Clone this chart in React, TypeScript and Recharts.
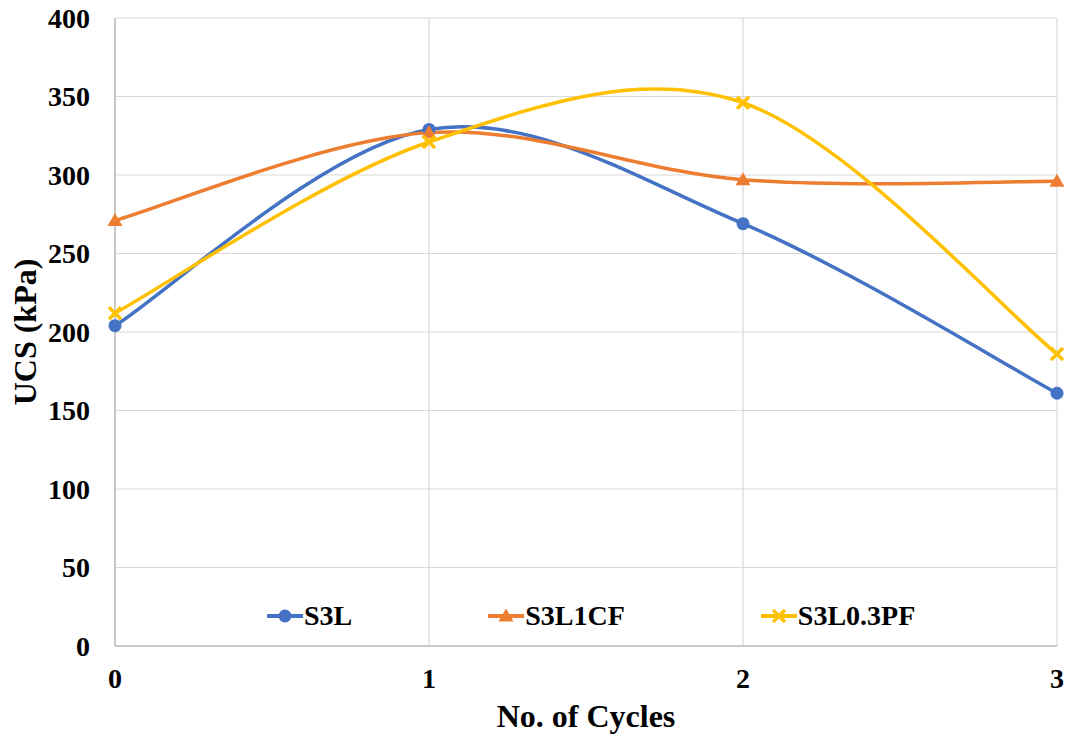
import React from 'react';
import { LineChart, Line, XAxis, YAxis, CartesianGrid, Legend, Label } from 'recharts';

const cycles = [0, 1, 2, 3];
const s3l = [204, 329, 269, 161];
const s3l1cf = [271, 327, 297, 296];
const s3l03pf = [212, 321, 346, 186];
const xTicks = [0, 1, 2, 3];
const yTicks = [0, 50, 100, 150, 200, 250, 300, 350, 400];
const seriesNames = ['S3L', 'S3L1CF', 'S3L0.3PF'];
const colors = ['#4472C4', '#ED7D31', '#FFC000'];

const data = cycles.map((c, i) => ({ cycle: c, a: s3l[i], b: s3l1cf[i], c: s3l03pf[i] }));

const FONT = '"Liberation Serif", "Times New Roman", serif';

function excelSmooth(context: any) {
  let pts: number[][] = [];
  return {
    areaStart() {},
    areaEnd() {},
    lineStart() {
      pts = [];
    },
    lineEnd() {
      const n = pts.length;
      if (!n) return;
      context.moveTo(pts[0][0], pts[0][1]);
      for (let i = 0; i < n - 1; i++) {
        const p0 = pts[Math.max(i - 1, 0)];
        const p1 = pts[i];
        const p2 = pts[i + 1];
        const p3 = pts[Math.min(i + 2, n - 1)];
        context.bezierCurveTo(
          p1[0] + (p2[0] - p0[0]) / 6,
          p1[1] + (p2[1] - p0[1]) / 6,
          p2[0] - (p3[0] - p1[0]) / 6,
          p2[1] - (p3[1] - p1[1]) / 6,
          p2[0],
          p2[1]
        );
      }
    },
    point(x: number, y: number) {
      pts.push([+x, +y]);
    },
  };
}

const markerShape = (kind: number, cx: number, cy: number, key?: string) => {
  if (kind === 0) return <circle key={key} cx={cx} cy={cy} r={6.5} fill={colors[0]} />;
  if (kind === 1)
    return (
      <polygon
        key={key}
        points={`${cx},${cy - 7.5} ${cx - 7.5},${cy + 5.5} ${cx + 7.5},${cy + 5.5}`}
        fill={colors[1]}
      />
    );
  return (
    <g key={key}>
      <line x1={cx - 6} y1={cy - 6} x2={cx + 6} y2={cy + 6} stroke={colors[2]} strokeWidth={3.5} />
      <line x1={cx - 6} y1={cy + 6} x2={cx + 6} y2={cy - 6} stroke={colors[2]} strokeWidth={3.5} />
    </g>
  );
};

const makeDot = (kind: number) => (props: any) => {
  const { cx, cy, index } = props;
  if (cx == null || cy == null) return <g key={`d${kind}-${index}`} />;
  return markerShape(kind, cx, cy, `d${kind}-${index}`);
};

const LegendContent = () => (
  <div
    style={{
      display: 'flex',
      alignItems: 'center',
      gap: 136,
      fontFamily: FONT,
      fontWeight: 'bold',
      fontSize: 28,
      color: '#000',
      whiteSpace: 'nowrap',
    }}
  >
    {seriesNames.map((name, i) => (
      <div key={name} style={{ display: 'flex', alignItems: 'center' }}>
        <svg width={36} height={20} style={{ display: 'block' }}>
          <line x1={0} y1={10} x2={36} y2={10} stroke={colors[i]} strokeWidth={4} />
          {markerShape(i, 18, 10)}
        </svg>
        <span style={{ marginLeft: 1, lineHeight: '32px' }}>{name}</span>
      </div>
    ))}
  </div>
);

const YTitle = (props: any) => {
  const vb = props.viewBox || { x: 0, y: 18, width: 115, height: 628 };
  const x = vb.x + 36;
  const y = vb.y + vb.height / 2;
  return (
    <text
      x={x}
      y={y}
      transform={`rotate(-90 ${x} ${y})`}
      textAnchor="middle"
      fontFamily={FONT}
      fontWeight="bold"
      fontSize={32}
      fill="#000"
    >
      UCS (kPa)
    </text>
  );
};

const XTitle = (props: any) => {
  const vb = props.viewBox || { x: 115, y: 646, width: 942, height: 89 };
  const x = vb.x + vb.width / 2;
  const y = vb.y + 81;
  return (
    <text x={x} y={y} textAnchor="middle" fontFamily={FONT} fontWeight="bold" fontSize={32} fill="#000">
      No. of Cycles
    </text>
  );
};

const tickStyle = { fontFamily: FONT, fontWeight: 'bold', fontSize: 28, fill: '#000' };

export default function App() {
  return (
    <div style={{ position: 'absolute', left: 0, top: 0, width: 1068, height: 735, background: '#fff' }}>
      <LineChart width={1068} height={735} data={data} margin={{ top: 18, right: 11, left: 0, bottom: 0 }}>
        <CartesianGrid stroke="#d9d9d9" strokeWidth={1.2} />
        <XAxis
          dataKey="cycle"
          type="number"
          domain={[0, 3]}
          ticks={xTicks}
          height={89}
          tickLine={false}
          tickSize={0}
          tickMargin={22}
          axisLine={{ stroke: '#bfbfbf', strokeWidth: 1.5 }}
          tick={tickStyle}
          interval={0}
        >
          <Label content={<XTitle />} />
        </XAxis>
        <YAxis
          type="number"
          domain={[0, 400]}
          ticks={yTicks}
          width={115}
          tickLine={false}
          tickSize={0}
          tickMargin={25}
          axisLine={{ stroke: '#bfbfbf', strokeWidth: 1.5 }}
          tick={tickStyle}
          interval={0}
        >
          <Label content={<YTitle />} />
        </YAxis>
        <Legend
          layout="horizontal"
          verticalAlign="middle"
          align="center"
          content={<LegendContent />}
          wrapperStyle={{ left: 267, top: 600, width: 'auto', height: 32 }}
        />
        <Line
          dataKey="a"
          name={seriesNames[0]}
          type={excelSmooth as any}
          stroke={colors[0]}
          strokeWidth={3.5}
          dot={makeDot(0)}
          activeDot={false}
          isAnimationActive={false}
        />
        <Line
          dataKey="b"
          name={seriesNames[1]}
          type={excelSmooth as any}
          stroke={colors[1]}
          strokeWidth={3.5}
          dot={makeDot(1)}
          activeDot={false}
          isAnimationActive={false}
        />
        <Line
          dataKey="c"
          name={seriesNames[2]}
          type={excelSmooth as any}
          stroke={colors[2]}
          strokeWidth={3.5}
          dot={makeDot(2)}
          activeDot={false}
          isAnimationActive={false}
        />
      </LineChart>
    </div>
  );
}
